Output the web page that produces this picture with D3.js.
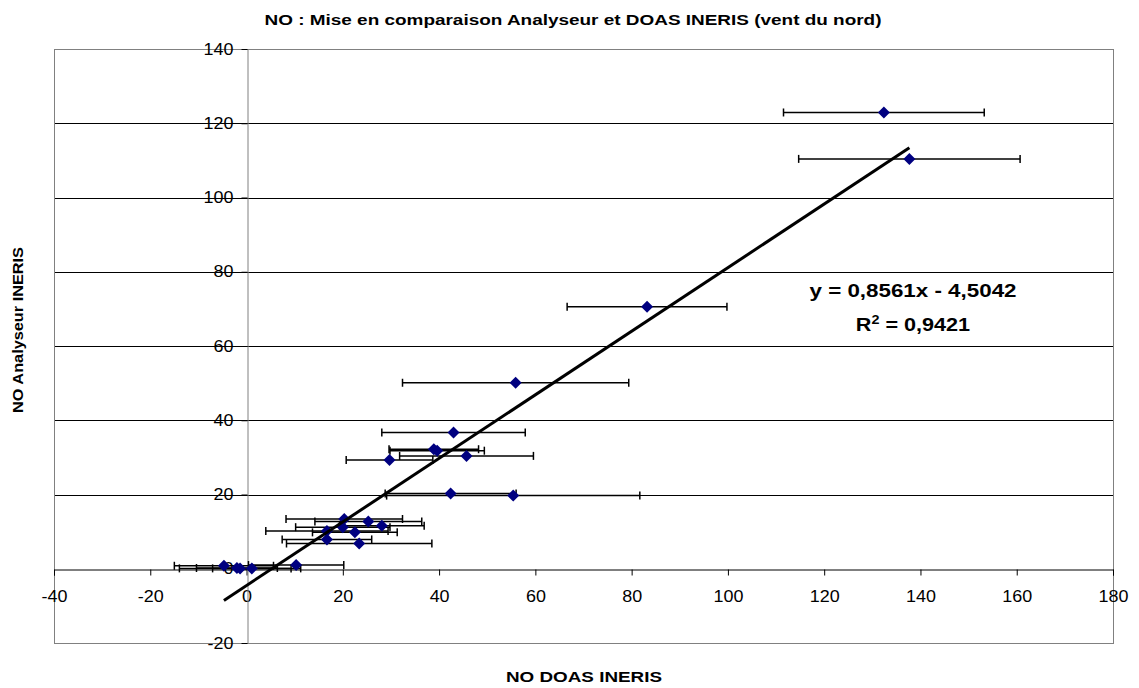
<!DOCTYPE html>
<html><head><meta charset="utf-8">
<script src="https://cdn.jsdelivr.net/npm/d3@7"></script>
<style>html,body{margin:0;padding:0;background:#fff;} svg{display:block;font-family:"Liberation Sans",Arial,sans-serif;}</style>
</head><body>
<script>
// ---- data ----
const doas = [132.4, 137.7, 83.2, 55.9, 43.0, 38.9, 39.6, 45.7, 29.7, 42.4, 55.4, 20.3, 25.3, 28.1, 20.0, 16.7, 22.5, 16.7, 23.4, -4.7, -2.0, -1.35, 1.1, 10.3];
const analyseur = [122.9, 110.4, 70.6, 50.1, 36.7, 32.2, 31.8, 30.4, 29.3, 20.3, 19.7, 13.4, 12.7, 11.6, 11.2, 10.2, 9.8, 7.9, 6.8, 0.8, 0.2, 0.1, 0.1, 1.0];
const doasErr = [20.85, 23.0, 16.6, 23.5, 14.9, 9.3, 9.8, 13.9, 9.0, 13.6, 26.3, 12.1, 11.1, 8.8, 9.8, 12.7, 8.8, 9.3, 15.1, 10.3, 8.4, 12.6, 8.15, 9.9];
const xTicks = [-40, -20, 0, 20, 40, 60, 80, 100, 120, 140, 160, 180];
const yTicks = [-20, 0, 20, 40, 60, 80, 100, 120, 140];
const slope = 0.8561, intercept = -4.5042;
const eqText = "y = 0,8561x - 4,5042";
const r2Value = "0,9421";
const title = "NO : Mise en comparaison Analyseur et DOAS INERIS (vent du nord)";
const xTitle = "NO DOAS INERIS";
const yTitle = "NO Analyseur INERIS";

const W = 1139, H = 688;
const L = 54, R = 1113, T = 49, B = 643;
const svg = d3.select("body").append("svg").attr("width", W).attr("height", H);

const x = d3.scaleLinear().domain([-40, 180]).range([L, R]);
const y = d3.scaleLinear().domain([-20, 140]).range([B, T]);

function stretch(sel, k) {
  sel.each(function () {
    const len = this.getComputedTextLength();
    d3.select(this).attr("textLength", len * k).attr("lengthAdjust", "spacingAndGlyphs");
  });
}

// gridlines
svg.append("g").selectAll("line").data(yTicks.filter(v => v !== 0 && v !== -20 && v !== 140))
  .join("line").attr("x1", L).attr("x2", R)
  .attr("y1", d => Math.round(y(d)) + 0.5).attr("y2", d => Math.round(y(d)) + 0.5)
  .attr("stroke", "#000").attr("stroke-width", 1);

// plot border
svg.append("rect").attr("x", L + 0.5).attr("y", T + 0.5).attr("width", R - L).attr("height", B - T)
  .attr("fill", "none").attr("stroke", "#808080").attr("stroke-width", 1);

// x axis at y=0
const xAxis = d3.axisBottom(x).tickValues(xTicks).tickSize(6).tickPadding(15).tickFormat(d => String(d));
const gx = svg.append("g").attr("transform", `translate(0,${Math.round(y(0)) + 0.5})`).call(xAxis);
gx.select(".domain").attr("stroke", "#000");
gx.selectAll(".tick line").attr("stroke", "#000");
gx.selectAll("text").attr("font-size", 16).attr("font-family", "Liberation Sans, Arial, sans-serif").attr("fill", "#000");
stretch(gx.selectAll("text"), 1.12);

// y axis at x=0
const yAxis = d3.axisLeft(y).tickValues(yTicks).tickSize(6).tickPadding(8).tickFormat(d => String(d));
const gy = svg.append("g").attr("transform", `translate(${Math.round(x(0)) + 0.5},0)`).call(yAxis);
gy.select(".domain").attr("stroke", "#808080");
gy.selectAll(".tick line").attr("stroke", "#000");
gy.selectAll("text").attr("font-size", 16).attr("font-family", "Liberation Sans, Arial, sans-serif").attr("fill", "#000");
stretch(gy.selectAll("text"), 1.12);

// error bars
const pts = doas.map((d, i) => ({ x: d, y: analyseur[i], e: doasErr[i] }));
const eb = svg.append("g").attr("stroke", "#000").attr("stroke-width", 1.5);
pts.forEach(p => {
  const yy = y(p.y);
  eb.append("line").attr("x1", x(p.x - p.e)).attr("x2", x(p.x + p.e)).attr("y1", yy).attr("y2", yy);
  eb.append("line").attr("x1", x(p.x - p.e)).attr("x2", x(p.x - p.e)).attr("y1", yy - 4).attr("y2", yy + 4);
  eb.append("line").attr("x1", x(p.x + p.e)).attr("x2", x(p.x + p.e)).attr("y1", yy - 4).attr("y2", yy + 4);
});

// markers (diamonds)
svg.append("g").selectAll("path").data(pts).join("path")
  .attr("d", "M0,-6L6,0L0,6L-6,0Z")
  .attr("transform", d => `translate(${x(d.x)},${y(d.y)})`)
  .attr("fill", "#000080");

// trendline
const xmin = d3.min(doas), xmax = d3.max(doas);
svg.append("line")
  .attr("x1", x(xmin)).attr("y1", y(slope * xmin + intercept))
  .attr("x2", x(xmax)).attr("y2", y(slope * xmax + intercept))
  .attr("stroke", "#000").attr("stroke-width", 3);

// titles
svg.append("text").attr("x", 573).attr("y", 25).attr("text-anchor", "middle")
  .attr("font-size", 14).attr("font-weight", "bold")
  .attr("textLength", 617).attr("lengthAdjust", "spacingAndGlyphs").text(title);
svg.append("text").attr("x", 584).attr("y", 682).attr("text-anchor", "middle")
  .attr("font-size", 15).attr("font-weight", "bold")
  .attr("textLength", 156).attr("lengthAdjust", "spacingAndGlyphs").text(xTitle);
svg.append("text").attr("transform", "translate(23,330) rotate(-90)").attr("text-anchor", "middle")
  .attr("font-size", 15).attr("font-weight", "bold")
  .attr("textLength", 166).attr("lengthAdjust", "spacingAndGlyphs").text(yTitle);

// equation
svg.append("text").attr("x", 913).attr("y", 297).attr("text-anchor", "middle")
  .attr("font-size", 18).attr("font-weight", "bold")
  .attr("textLength", 207).attr("lengthAdjust", "spacingAndGlyphs").text(eqText);
const r2 = svg.append("text").attr("x", 913).attr("y", 331).attr("text-anchor", "middle")
  .attr("font-size", 18).attr("font-weight", "bold");
r2.append("tspan").text("R");
r2.append("tspan").attr("dy", -7).attr("font-size", 12).text("2");
r2.append("tspan").attr("dy", 7).text(" = " + r2Value);
stretch(r2, 1.2);
</script>
</body></html>
